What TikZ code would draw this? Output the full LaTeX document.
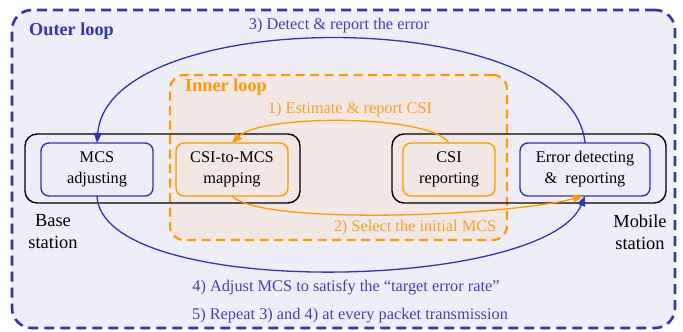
\documentclass[tikz,border=0pt]{standalone}
\usepackage{fontspec}
\newfontfamily\timesfont{Liberation Serif}
\usetikzlibrary{arrows.meta}
\definecolor{oblue}{HTML}{3333B8}
\definecolor{tblue}{HTML}{4040B8}
\definecolor{oorange}{HTML}{FF9900}
\definecolor{torange}{HTML}{FF9E28}
\definecolor{outerfill}{HTML}{EEEEF8}
\definecolor{innerfill}{HTML}{F2E7E4}
\tikzset{
  txt/.style={font=\timesfont\fontsize{16.4}{21}\selectfont, align=center, inner sep=0pt},
  bold/.style={font=\timesfont\fontsize{18.3}{21}\selectfont\bfseries, inner sep=0pt},
  station/.style={font=\timesfont\fontsize{18.5}{22}\selectfont, align=center, inner sep=0pt},
  blackbox/.style={draw=black, line width=1.4bp, rounded corners=12bp, minimum width=275bp, minimum height=69bp, inner sep=0pt, outer sep=0pt},
  bluebox/.style={draw=oblue, line width=1.4bp, rounded corners=8bp, minimum height=53bp, inner sep=0pt, outer sep=0pt, txt},
  orangebox/.style={draw=oorange, line width=1.4bp, rounded corners=8bp, minimum height=53bp, inner sep=0pt, outer sep=0pt, txt},
  bluearrow/.style={draw=oblue, line width=1.3bp, -{Triangle[length=10bp,width=8bp]}},
  orangearrow/.style={draw=oorange, line width=1.3bp, -{Triangle[length=10bp,width=8bp]}},
}
\begin{document}
\begin{tikzpicture}[x=1bp,y=-1bp]
\useasboundingbox (0,0) rectangle (683,331);
\node[draw=oblue, fill=outerfill, line width=2.6bp, dash pattern=on 10bp off 6bp, rounded corners=20bp,
  minimum width=663bp, minimum height=318bp, inner sep=0pt, outer sep=0pt] (outer) at (343.5,169) {};
\node[draw=oorange, fill=innerfill, line width=2.2bp, dash pattern=on 9bp off 5.5bp, rounded corners=14bp,
  minimum width=337bp, minimum height=165bp, inner sep=0pt, outer sep=0pt] (inner) at (338.5,157.5) {};
\node[bold, text=oblue, anchor=west] (outerlbl) at (29,31) {Outer loop};
\node[bold, text=oorange, anchor=west] (innerlbl) at (185,87) {Inner loop};
\node[blackbox] (bs) at (162.5,168.5) {};
\node[blackbox, minimum width=274bp] (ms) at (529,168.5) {};
\node[bluebox, minimum width=112bp] (mcs) at (97,169.5) {MCS\\adjusting};
\node[orangebox, minimum width=112bp] (map) at (232,169.5) {CSI-to-MCS\\mapping};
\node[orangebox, minimum width=92bp] (csi) at (449,169.5) {CSI\\reporting};
\node[bluebox, minimum width=130bp] (err) at (585,169.5) {Error detecting\\\&\ \ reporting};
\node[station] (bslbl) at (53,232) {Base\\station};
\node[station] (mslbl) at (640,232) {Mobile\\station};
\draw[bluearrow] (err.north) .. controls (572,4) and (108,4) .. (mcs.north);
\draw[orangearrow] (csi.north) .. controls (430,114) and (262,114) .. (map.north);
\draw[orangearrow] (map.south) .. controls (262,226) and (510,216) .. ([xshift=-2bp]err.south);
\draw[bluearrow] (mcs.south) .. controls (102,300) and (545,292) .. (err.south);
\node[txt, text=tblue] (l3) at (339,26) {3) Detect \& report the error};
\node[txt, text=torange] (l1) at (350,110) {1) Estimate \& report CSI};
\node[txt, text=torange] (l2) at (415,228) {2) Select the initial MCS};
\node[txt, text=tblue] (l4) at (346,288) {4) Adjust MCS to satisfy the “target error rate”};
\node[txt, text=tblue] (l5) at (350,316) {5) Repeat 3) and 4) at every packet transmission};
\end{tikzpicture}
\end{document}
